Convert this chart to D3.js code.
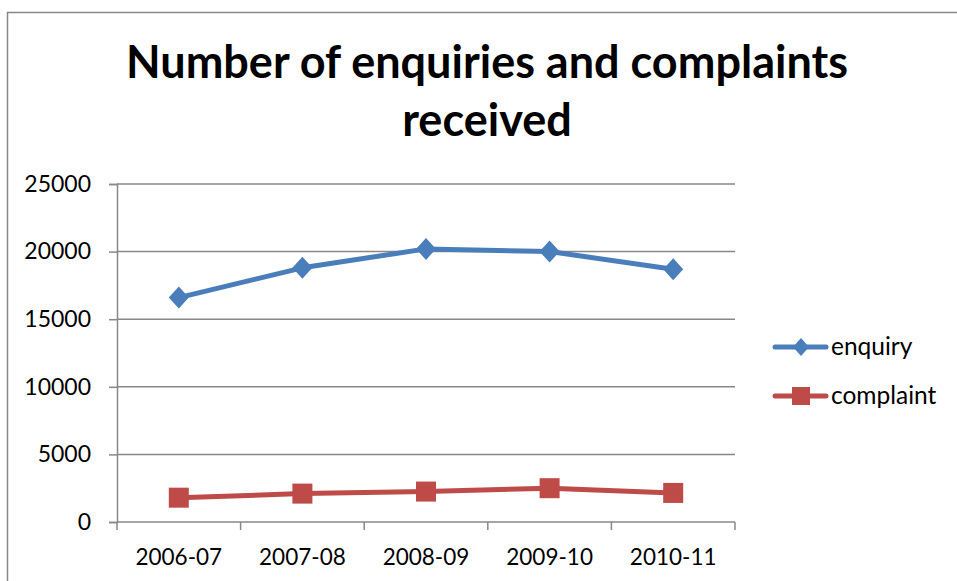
<!DOCTYPE html>
<html>
<head>
<meta charset="utf-8">
<script src="https://cdn.jsdelivr.net/npm/d3@7"></script>
<style>
  html, body { margin: 0; padding: 0; background: #fff; }
  svg { display: block; }
  text { font-family: Lato, "Open Sans", sans-serif; fill: #000; }
</style>
</head>
<body>
<svg id="chart" width="957" height="581"></svg>
<script>
const categories = ["2006-07", "2007-08", "2008-09", "2009-10", "2010-11"];
const enquiry = [16600, 18800, 20200, 20000, 18700];
const complaint = [1800, 2100, 2250, 2500, 2150];
const seriesNames = ["enquiry", "complaint"];
const yTicks = [0, 5000, 10000, 15000, 20000, 25000];
const titleLines = ["Number of enquiries and complaints", "received"];

const svg = d3.select("#chart");
const W = 957, H = 581;
const gridColor = "#888888";

// outer chart border (extends past right/bottom edges)
svg.append("rect")
  .attr("x", 7.5).attr("y", 12.5)
  .attr("width", W + 20).attr("height", H + 20)
  .attr("fill", "none").attr("stroke", gridColor).attr("stroke-width", 1.5);

const plot = { left: 117, right: 735, top: 184, bottom: 522 };

const x = d3.scaleBand().domain(categories).range([plot.left, plot.right]).paddingInner(0).paddingOuter(0);
const y = d3.scaleLinear().domain([0, 25000]).range([plot.bottom, plot.top]);

// title
svg.append("g").selectAll("text").data(titleLines).join("text")
  .attr("x", 487)
  .attr("y", (d, i) => 78 + i * 58)
  .attr("text-anchor", "middle")
  .style("font-weight", "bold")
  .style("font-size", "45px")
  .text(d => d);

// gridlines
svg.append("g").selectAll("line").data(yTicks.filter(t => t > 0)).join("line")
  .attr("x1", plot.left).attr("x2", plot.right)
  .attr("y1", d => y(d)).attr("y2", d => y(d))
  .attr("stroke", gridColor).attr("stroke-width", 1.5);

// y axis
const yAxis = d3.axisLeft(y).tickValues(yTicks).tickSize(8).tickPadding(18).tickFormat(d3.format("d"));
const gy = svg.append("g").attr("transform", `translate(${plot.left},0)`).call(yAxis);
gy.select(".domain").attr("stroke", gridColor).attr("stroke-width", 1.5);
gy.selectAll(".tick line").attr("stroke", gridColor).attr("stroke-width", 1.5);
gy.selectAll(".tick text").style("font-size", "23px").style("font-family", "Lato, sans-serif").attr("fill", "#000");

// x axis
const xAxis = d3.axisBottom(x).tickSize(0).tickPadding(27);
const gx = svg.append("g").attr("transform", `translate(0,${plot.bottom})`).call(xAxis);
gx.select(".domain").attr("stroke", gridColor).attr("stroke-width", 1.5).attr("d", `M${plot.left},0H${plot.right}`);
gx.selectAll(".tick text").style("font-size", "22.5px").style("font-family", "Lato, sans-serif").attr("fill", "#000");
// boundary ticks
const bounds = categories.map(c => x(c)).concat([x(categories[categories.length - 1]) + x.bandwidth()]);
gx.append("g").selectAll("line").data(bounds).join("line")
  .attr("x1", d => d).attr("x2", d => d).attr("y1", 0).attr("y2", 8)
  .attr("stroke", gridColor).attr("stroke-width", 1.5);

const cx = c => x(c) + x.bandwidth() / 2;
const colors = { enquiry: "#4A7EBB", complaint: "#BE4B48" };
const data = { enquiry, complaint };

seriesNames.forEach(name => {
  const vals = data[name];
  const pts = categories.map((c, i) => [cx(c), y(vals[i])]);
  svg.append("path")
    .attr("d", d3.line()(pts))
    .attr("fill", "none").attr("stroke", colors[name]).attr("stroke-width", 5)
    .attr("stroke-linejoin", "round").attr("stroke-linecap", "round");
  const g = svg.append("g");
  if (name === "enquiry") {
    g.selectAll("path").data(pts).join("path")
      .attr("transform", d => `translate(${d[0]},${d[1]})`)
      .attr("d", "M0,-11L10,0L0,11L-10,0Z")
      .attr("fill", colors[name]);
  } else {
    g.selectAll("rect").data(pts).join("rect")
      .attr("x", d => d[0] - 10).attr("y", d => d[1] - 10)
      .attr("width", 20).attr("height", 20)
      .attr("fill", colors[name]);
  }
});

// legend
const legendY = [347, 396];
const lg = svg.append("g");
seriesNames.forEach((name, i) => {
  const ly = legendY[i];
  lg.append("line").attr("x1", 775).attr("x2", 826).attr("y1", ly).attr("y2", ly)
    .attr("stroke", colors[name]).attr("stroke-width", 5).attr("stroke-linecap", "round");
  if (name === "enquiry") {
    lg.append("path").attr("transform", `translate(801,${ly})`).attr("d", "M0,-9L8,0L0,9L-8,0Z").attr("fill", colors[name]);
  } else {
    lg.append("rect").attr("x", 792).attr("y", ly - 9).attr("width", 18).attr("height", 18).attr("fill", colors[name]);
  }
  lg.append("text").attr("x", 831).attr("y", ly + 8).style("font-size", "24.5px").text(name);
});
</script>
</body>
</html>
